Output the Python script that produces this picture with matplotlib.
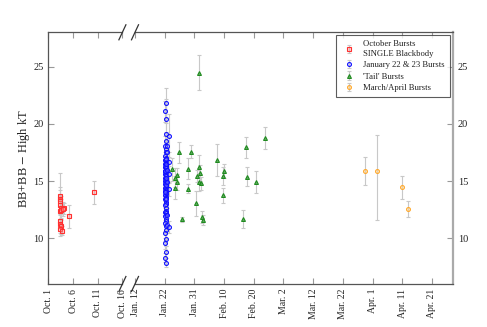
import matplotlib
matplotlib.use('Agg')
import matplotlib.pyplot as plt
from matplotlib.lines import Line2D

plt.rcParams['font.family'] = ['Liberation Serif', 'DejaVu Serif']
plt.rcParams['mathtext.fontset'] = 'stix'

# ---------------- data (x = days since Oct 1, 2008) ----------------
oct_day = [2.4, 2.4, 2.4, 2.4, 2.5, 3.1, 2.4, 4.1, 2.4, 2.4, 2.5, 2.4, 2.8, 9.3, 2.5, 2.9]
oct_val = [13.67, 13.44, 13.23, 12.94, 12.65, 12.6, 12.35, 11.9, 11.47, 11.26, 11.03, 10.8, 10.67, 14.02, 12.5, 12.55]
oct_err = [2.0, 1.0, 1.0, 0.8, 1.0, 0.5, 1.0, 1.0, 0.8, 0.8, 0.7, 0.6, 0.4, 1.0, 0.9, 0.6]

jan_day = [113.3, 113.2, 113.3, 113.4, 113.3, 113.2, 113.4, 113.3, 113.2, 113.3,
           113.4, 113.2, 113.3, 113.4, 113.2, 113.3, 113.4, 113.2, 113.3, 113.4,
           113.2, 113.3, 113.4, 113.2, 113.3, 113.4, 113.2, 113.3, 113.4, 113.2,
           113.3, 113.4, 113.2, 113.3, 113.4, 113.2, 113.3, 113.4, 113.2, 113.3,
           113.4, 113.2, 113.3, 113.4, 113.2, 113.3, 113.4, 113.2, 113.3, 113.4,
           113.2, 113.3, 113.4, 113.2, 113.3, 113.4, 113.2, 113.3, 113.4, 113.2,
           113.3, 113.2, 113.3, 113.2, 113.3, 113.3, 113.4, 113.2, 113.3, 113.4,
           113.2, 113.3,
           113.9, 113.9, 113.9, 113.9, 113.9, 113.9,
           114.6, 114.6, 114.6, 114.6, 114.6]
jan_val = [21.85, 21.1, 20.4, 19.1, 18.5, 18.1, 17.8, 17.5, 17.2, 17.0,
           16.9, 16.8, 16.7, 16.6, 16.5, 16.4, 16.3, 16.2, 16.1, 16.0,
           15.9, 15.8, 15.7, 15.6, 15.5, 15.4, 15.3, 15.2, 15.1, 15.0,
           14.9, 14.8, 14.7, 14.6, 14.5, 14.4, 14.3, 14.2, 14.1, 14.0,
           13.9, 13.8, 13.6, 13.5, 13.4, 13.2, 13.0, 12.9, 12.6, 12.4,
           12.3, 12.2, 12.0, 11.9, 11.7, 11.5, 11.3, 11.1, 10.7, 10.45,
           9.9, 9.56, 8.8, 8.3, 7.85, 16.95, 16.45, 15.85, 15.25, 14.65,
           14.05, 13.45,
           17.5, 16.0, 14.9, 12.0, 11.2, 18.1,
           18.97, 16.7, 14.26, 11.0, 15.6]
jan_err = [1.3, 0.9, 1.8, 1.0, 0.8, 0.8, 0.7, 0.8, 0.7, 0.6,
           0.8, 0.7, 0.6, 0.8, 0.7, 0.6, 0.8, 0.7, 0.6, 0.8,
           0.7, 0.6, 0.8, 0.7, 0.6, 0.8, 0.7, 0.6, 0.8, 0.7,
           0.6, 0.8, 0.7, 0.6, 0.8, 0.7, 0.6, 0.8, 0.7, 0.6,
           0.8, 0.7, 0.6, 0.8, 0.7, 0.6, 0.8, 0.7, 0.6, 0.8,
           0.7, 0.6, 0.8, 0.7, 0.6, 0.8, 0.7, 0.6, 0.8, 0.7,
           0.6, 0.5, 0.5, 0.4, 0.4, 0.7, 0.6, 0.8, 0.7, 0.6,
           0.8, 0.7,
           0.9, 0.8, 0.7, 0.6, 0.6, 0.9,
           1.9, 0.8, 0.6, 0.5, 0.7]

tail_day = [124.6, 117.9, 121.8, 115.3, 117.0, 116.4, 117.3, 116.6, 120.7, 121.0,
            118.8, 123.5, 123.8, 124.4, 124.9, 124.6, 125.2, 125.4, 125.9, 130.6,
            132.5, 133.1, 132.5, 140.4, 146.8, 140.6, 143.9, 139.3]
tail_val = [24.47, 17.5, 17.56, 16.03, 15.53, 15.3, 14.94, 14.41, 14.32, 16.09,
            11.64, 13.05, 15.44, 16.27, 15.74, 14.94, 14.79, 11.85, 11.59, 16.85,
            15.44, 15.88, 13.76, 17.94, 18.76, 15.38, 14.91, 11.68]
tail_err = [1.55, 0.93, 0.55, 1.0, 0.6, 0.8, 0.7, 1.0, 0.4, 0.9,
            0.25, 1.1, 0.5, 1.0, 0.7, 0.8, 0.6, 0.5, 0.4, 1.4,
            0.8, 0.6, 0.65, 0.9, 0.93, 0.85, 0.93, 0.75]

ma_day = [180.4, 184.6, 193.0, 195.0]
ma_val = [15.88, 15.85, 14.47, 12.56]
ma_err_lo = [1.2, 4.25, 1.0, 0.67]
ma_err_hi = [1.2, 3.18, 1.0, 0.67]

left_ticks = [0, 5, 10, 15]
left_labels = ['Oct. 1', 'Oct. 6', 'Oct. 11', 'Oct. 16']
right_ticks = [103, 113, 123, 133, 143, 153, 163, 173, 183, 193, 203]
right_labels = ['Jan. 12', 'Jan. 22', 'Jan. 31', 'Feb. 10', 'Feb. 20', 'Mar. 2',
                'Mar. 12', 'Mar. 22', 'Apr. 1', 'Apr. 11', 'Apr. 21']
y_ticks = [10, 15, 20, 25]

# ---------------- figure ----------------
W, Hpx = 487, 327
fig = plt.figure(figsize=(W / 100, Hpx / 100), dpi=100)
x_l0, x_l1, x_r0, x_r1 = 48.3, 122.4, 135.0, 453.0
y_top, y_bot = 32.3, 284.0
B = 1 - y_bot / Hpx
T = 1 - y_top / Hpx
ax1 = fig.add_axes([x_l0 / W, B, (x_l1 - x_l0) / W, T - B])
ax2 = fig.add_axes([x_r0 / W, B, (x_r1 - x_r0) / W, T - B])

ecol = '#c8c8c8'
ekw = dict(ecolor=ecol, elinewidth=0.8, capsize=1.5, capthick=0.8, ls='none', ms=2.8, mew=0.8)

h1 = ax1.errorbar(oct_day, oct_val, yerr=oct_err, fmt='s', mec='#ff3030',
                  mfc=(1, 0.6, 0.6, 0.4), **ekw)
h2 = ax2.errorbar(jan_day, jan_val, yerr=jan_err, fmt='o', mec='#1010ff',
                  mfc=(0.75, 0.75, 1, 0.3), **ekw)
h3 = ax2.errorbar(tail_day, tail_val, yerr=tail_err, fmt='^', mec='#1f8a1f',
                  mfc=(0.3, 0.65, 0.3, 0.8), **ekw)
h4 = ax2.errorbar(ma_day, ma_val, yerr=[ma_err_lo, ma_err_hi], fmt='o', mec='#ffaa30',
                  mfc=(1, 0.85, 0.6, 0.5), **ekw)

for ax in (ax1, ax2):
    ax.set_ylim(6, 28)
    ax.set_yticks(y_ticks)
    ax.tick_params(axis='both', direction='in', length=4, width=0.8, color='#999999',
                   labelsize=7.5, labelcolor='#222222', top=True)
    ax.tick_params(axis='x', labelsize=7, labelrotation=90)
    for s in ax.spines.values():
        s.set_color('#555555')
        s.set_linewidth(0.9)

ax1.set_xlim(0, 15)
ax1.set_xticks(left_ticks)
ax1.set_xticklabels(left_labels)
ax1.spines['right'].set_visible(False)
ax1.tick_params(axis='y', left=True, right=False)
ax1.set_ylabel('BB+BB $-$ High kT', fontsize=9, color='#222222', labelpad=0.5)

ax2.set_xlim(103, 210.1)
ax2.set_xticks(right_ticks)
ax2.set_xticklabels(right_labels)
ax2.spines['left'].set_visible(False)
ax2.spines['right'].set_color('#aaaaaa')
ax2.spines['right'].set_linewidth(1.6)
ax2.yaxis.tick_right()
ax2.tick_params(axis='y', left=False, right=True)

# break marks
dx, dy = 3.5 / W, 7.5 / Hpx
for xc in (x_l1 / W, x_r0 / W):
    for yc in (B, T):
        fig.add_artist(Line2D([xc - dx, xc + dx], [yc - dy, yc + dy],
                              transform=fig.transFigure, color='#333333', lw=0.9))

leg = ax2.legend([h1, h2, h3, h4],
                 ['October Bursts\nSINGLE Blackbody', 'January 22 & 23 Bursts',
                  "'Tail' Bursts", 'March/April Bursts'],
                 loc='upper right', fontsize=6.2, frameon=True, fancybox=False,
                 edgecolor='#333333', borderaxespad=0.35, handlelength=1.8,
                 labelspacing=0.4, borderpad=0.6)
leg.get_frame().set_linewidth(0.8)
for t in leg.get_texts():
    t.set_color('#222222')

fig.savefig('out.png', dpi=100)
